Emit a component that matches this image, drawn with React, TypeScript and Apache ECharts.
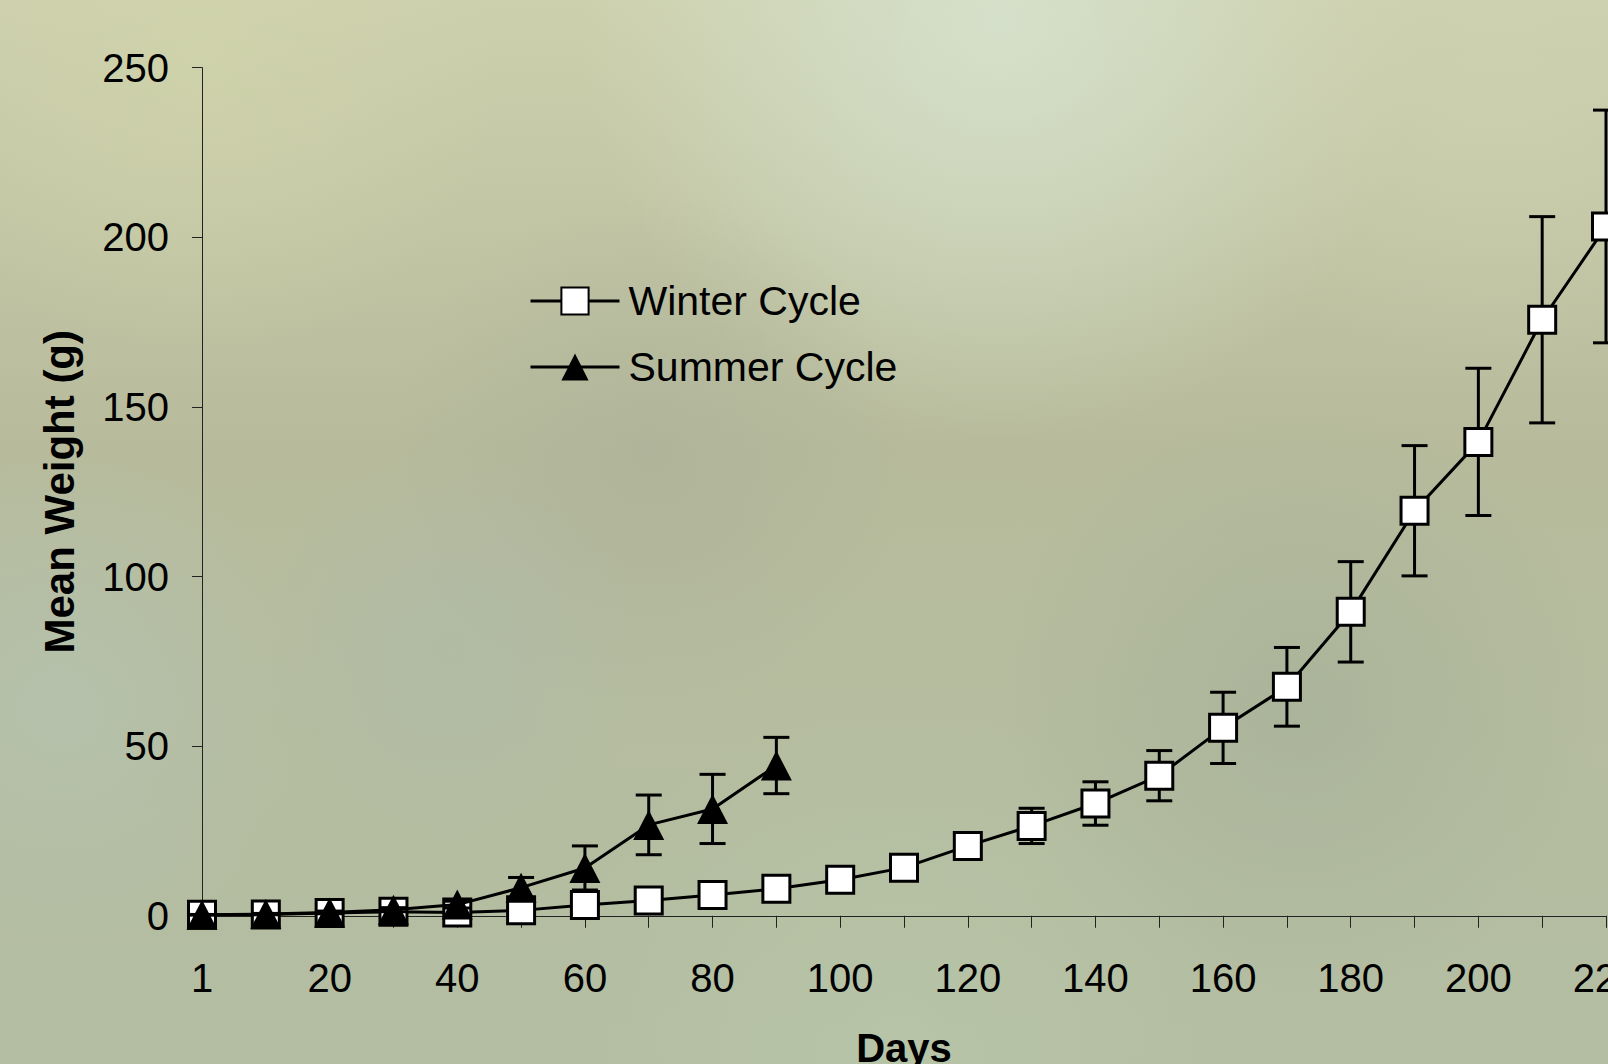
import React, { useEffect, useRef } from "react";
import * as echarts from "echarts";

const days = ["1","10","20","30","40","50","60","70","80","90","100","110","120","130","140","150","160","170","180","190","200","210","220"];
const winterMean = [0.3,0.4,0.8,1.2,1.0,1.6,3.2,4.5,6.1,8.0,10.6,14.2,20.6,26.5,33.1,41.3,55.4,67.5,89.6,119.4,139.7,175.7,203.2];
const winterErr = [0.1,0.1,0.2,0.3,0.3,0.4,0.6,0.8,1.0,1.3,1.5,2.0,3.0,5.2,6.4,7.4,10.5,11.6,14.8,19.2,21.7,30.4,34.3];
const summerMean = [0.3,0.5,1.0,1.8,3.3,8.3,14.1,26.8,31.5,44.3];
const summerErr = [0.1,0.2,0.4,0.6,1.0,3.0,6.5,8.8,10.2,8.3];
const yTicks = [0, 50, 100, 150, 200, 250];

const FONT = "'Liberation Sans', Arial, sans-serif";

function errData(mean: number[], err: number[]) {
  return mean.map((m, i) => [i, m - err[i], m + err[i]]);
}

function errSeries(name: string, mean: number[], err: number[], z: number) {
  return {
    type: "custom",
    name: name + " err",
    z,
    silent: true,
    data: errData(mean, err),
    encode: { x: 0, y: [1, 2] },
    renderItem: (params: any, api: any) => {
      const x = api.value(0);
      const lo = api.coord([x, api.value(1)]);
      const hi = api.coord([x, api.value(2)]);
      const hw = 13;
      const st = { stroke: "#000", lineWidth: 3 };
      return {
        type: "group",
        children: [
          { type: "line", shape: { x1: lo[0], y1: lo[1], x2: hi[0], y2: hi[1] }, style: st },
          { type: "line", shape: { x1: lo[0] - hw, y1: lo[1], x2: lo[0] + hw, y2: lo[1] }, style: st },
          { type: "line", shape: { x1: hi[0] - hw, y1: hi[1], x2: hi[0] + hw, y2: hi[1] }, style: st },
        ],
      };
    },
  };
}

export default function App() {
  const ref = useRef<HTMLDivElement>(null);
  useEffect(() => {
    if (!ref.current) return;
    const chart = echarts.init(ref.current, undefined, { renderer: "svg" });
    const R = (echarts as any).graphic.RadialGradient;
    const L = (echarts as any).graphic.LinearGradient;
    const blob = (cx: number, cy: number, r: number, c: string) => ({
      type: "circle",
      z: -10,
      silent: true,
      shape: { cx, cy, r },
      style: { fill: new R(0.5, 0.5, 0.5, [{ offset: 0, color: c }, { offset: 1, color: c.replace(/[\d.]+\)$/, "0)") }]) },
    });
    chart.setOption({
      animation: false,
      backgroundColor: new L(0, 0, 0, 1, [
        { offset: 0, color: "#cdd0ad" },
        { offset: 0.4, color: "#b7bb9c" },
        { offset: 1, color: "#b3bea3" },
      ]),
      graphic: [
        blob(1000, 20, 420, "rgba(214,226,206,0.9)"),
        blob(200, 60, 300, "rgba(208,212,170,0.7)"),
        blob(1500, 80, 300, "rgba(206,210,178,0.6)"),
        blob(60, 700, 250, "rgba(180,196,180,0.6)"),
        blob(900, 1050, 350, "rgba(185,200,170,0.6)"),
        blob(1300, 700, 300, "rgba(160,172,150,0.5)"),
        blob(650, 450, 260, "rgba(165,170,150,0.4)"),
        blob(450, 650, 200, "rgba(170,185,175,0.4)"),
      ],
      grid: { left: 202, top: 67.7, width: 1404, height: 848.1, containLabel: false },
      legend: {
        orient: "vertical",
        left: 524,
        top: 272,
        itemWidth: 89,
        itemHeight: 34,
        itemGap: 18,
        lineStyle: { width: 3, color: "#000" },
        textStyle: { fontFamily: FONT, fontSize: 41, color: "#000", padding: [0, 0, 0, 4], lineHeight: 48 },
        data: ["Winter Cycle", "Summer Cycle"],
      },
      xAxis: {
        type: "category",
        data: days,
        boundaryGap: false,
        name: "Days",
        nameLocation: "middle",
        nameGap: 112,
        nameTextStyle: { fontFamily: FONT, fontSize: 40, fontWeight: "bold", color: "#000" },
        axisLine: { lineStyle: { color: "#222", width: 1 } },
        axisTick: { show: true, interval: 0, length: 12, lineStyle: { color: "#222", width: 1 } },
        axisLabel: { interval: 1, margin: 42, fontFamily: FONT, fontSize: 40, color: "#000" },
        splitLine: { show: false },
      },
      yAxis: {
        type: "value",
        min: yTicks[0],
        max: yTicks[yTicks.length - 1],
        interval: 50,
        name: "Mean Weight (g)",
        nameLocation: "middle",
        nameGap: 122,
        nameTextStyle: { fontFamily: FONT, fontSize: 42, fontWeight: "bold", color: "#000" },
        axisLine: { show: true, lineStyle: { color: "#222", width: 1 } },
        axisTick: { show: true, length: 10, lineStyle: { color: "#222", width: 1 } },
        axisLabel: { margin: 33, fontFamily: FONT, fontSize: 40, color: "#000" },
        splitLine: { show: false },
      },
      series: [
        errSeries("Winter Cycle", winterMean, winterErr, 1),
        {
          type: "line",
          name: "Winter Cycle",
          z: 2,
          data: winterMean,
          symbol: "rect",
          symbolSize: [27, 27],
          showAllSymbol: true,
          lineStyle: { color: "#000", width: 3 },
          itemStyle: { color: "#fff", borderColor: "#000", borderWidth: 3 },
        },
        errSeries("Summer Cycle", summerMean, summerErr, 3),
        {
          type: "line",
          name: "Summer Cycle",
          z: 4,
          data: summerMean,
          symbol: "triangle",
          symbolSize: [31, 30],
          showAllSymbol: true,
          lineStyle: { color: "#000", width: 3 },
          itemStyle: { color: "#000", borderColor: "#000", borderWidth: 0 },
        },
      ],
    });
    return () => chart.dispose();
  }, []);
  return (
    <div style={{ position: "fixed", left: 0, top: 0, width: 1608, height: 1064, overflow: "hidden" }}>
      <div ref={ref} style={{ width: 1700, height: 1120 }} />
    </div>
  );
}
